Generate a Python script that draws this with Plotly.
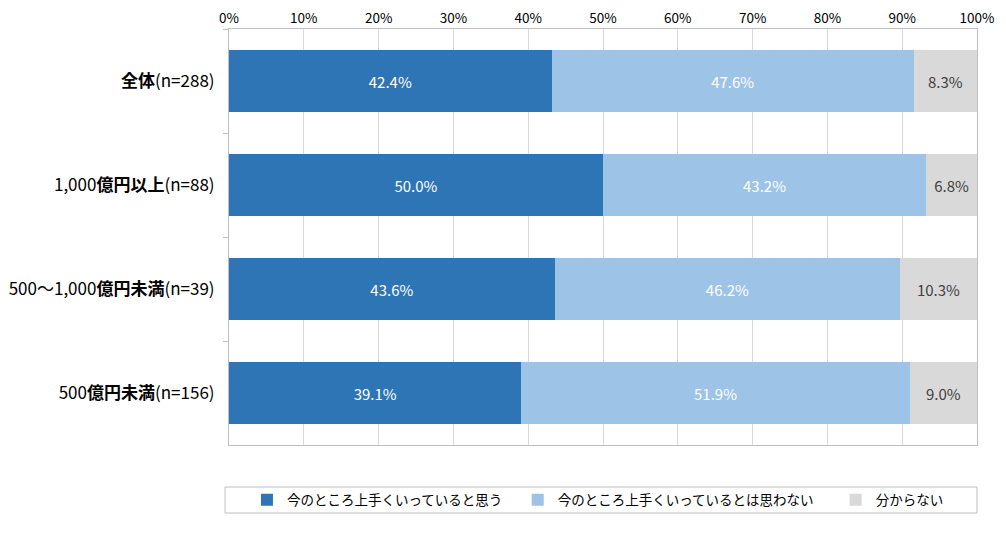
import plotly.graph_objects as go

categories = ["<b>全体</b>(n=288)", "1,000<b>億円以上</b>(n=88)", "500～1,000<b>億円未満</b>(n=39)", "500<b>億円未満</b>(n=156)"]
series_names = ["今のところ上手くいっていると思う", "今のところ上手くいっているとは思わない", "分からない"]
yes_vals = [42.4, 50.0, 43.6, 39.1]
no_vals = [47.6, 43.2, 46.2, 51.9]
dk_vals = [8.3, 6.8, 10.3, 9.0]
tick_vals = [0, 10, 20, 30, 40, 50, 60, 70, 80, 90, 100]
tick_text = [f"{v}%" for v in tick_vals]

colors = ["#2E75B6", "#9DC3E6", "#D9D9D9"]
text_colors = ["white", "white", "#404040"]
legend_ids = ["legend", "legend2", "legend3"]
legend_x = [0.024, 0.386, 0.811]
FONT = "Noto Sans CJK JP"

fig = go.Figure()
for name, vals, c, tc, lg in zip(series_names, [yes_vals, no_vals, dk_vals], colors, text_colors, legend_ids):
    fig.add_trace(go.Bar(
        y=categories, x=vals, name=name, orientation="h",
        marker=dict(color=c, line=dict(width=0)),
        text=[f"{v:.1f}%" for v in vals], textposition="inside",
        insidetextanchor="middle",
        textfont=dict(color=tc, size=15, family=FONT),
        width=0.6, legend=lg,
    ))

legend_common = dict(
    orientation="h", xanchor="left", y=-0.132, yanchor="middle",
    bgcolor="rgba(0,0,0,0)", borderwidth=0,
    font=dict(size=13.5, family=FONT, color="#000000"),
    itemclick=False, itemwidth=30,
)

fig.update_layout(
    barmode="stack", barnorm="percent",
    width=998, height=534,
    margin=dict(l=221, r=29, t=21, b=97, autoexpand=False),
    paper_bgcolor="white", plot_bgcolor="white",
    font=dict(family=FONT, color="#000000"),
    showlegend=True,
    legend=dict(x=legend_x[0], **legend_common),
    legend2=dict(x=legend_x[1], **legend_common),
    legend3=dict(x=legend_x[2], **legend_common),
    shapes=[dict(
        type="rect", xref="paper", yref="paper",
        x0=-0.0053, x1=1.0, y0=-0.1635, y1=-0.101,
        line=dict(color="#BFBFBF", width=1), fillcolor="rgba(0,0,0,0)",
    )],
    xaxis=dict(
        side="top", range=[0, 100], tickvals=tick_vals, ticktext=tick_text,
        showgrid=True, gridcolor="#D9D9D9", gridwidth=1,
        showline=True, linecolor="#BFBFBF", mirror=True,
        tickfont=dict(size=13.5, family=FONT, color="#000000"),
        ticks="", zeroline=False, fixedrange=True,
    ),
    yaxis=dict(
        autorange="reversed", type="category", tickson="boundaries",
        ticks="outside", ticklen=5, tickcolor="#BFBFBF",
        ticklabelstandoff=10,
        showline=True, linecolor="#BFBFBF", mirror=True,
        tickfont=dict(size=17, family=FONT, color="#000000"),
        showgrid=False, fixedrange=True,
    ),
)

fig.write_html("out.html")
